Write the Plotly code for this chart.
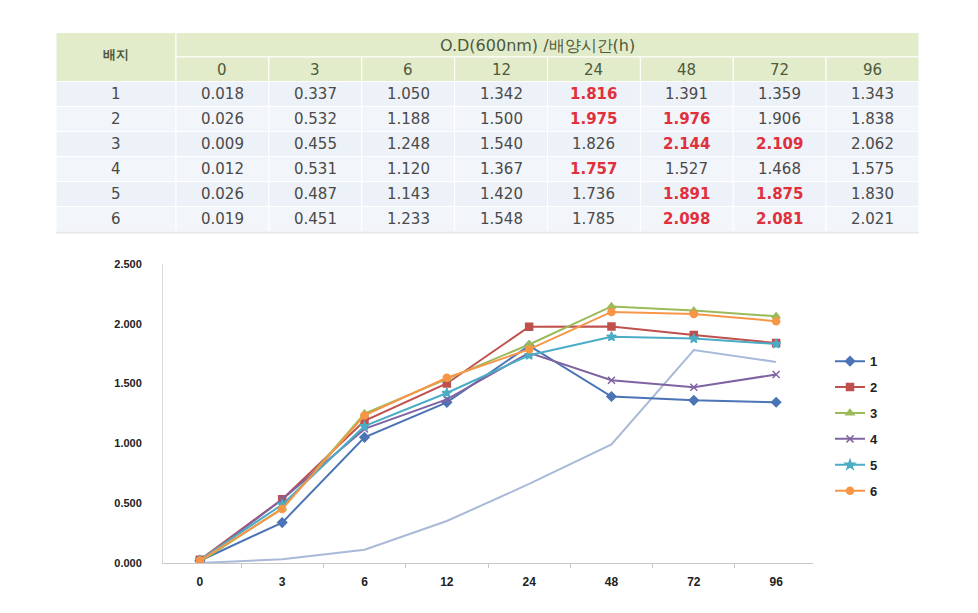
import plotly.graph_objects as go

W, H = 978, 613

times = ["0", "3", "6", "12", "24", "48", "72", "96"]
media = ["1", "2", "3", "4", "5", "6"]
od1 = [0.018, 0.337, 1.050, 1.342, 1.816, 1.391, 1.359, 1.343]
od2 = [0.026, 0.532, 1.188, 1.500, 1.975, 1.976, 1.906, 1.838]
od3 = [0.009, 0.455, 1.248, 1.540, 1.826, 2.144, 2.109, 2.062]
od4 = [0.012, 0.531, 1.120, 1.367, 1.757, 1.527, 1.468, 1.575]
od5 = [0.026, 0.487, 1.143, 1.420, 1.736, 1.891, 1.875, 1.830]
od6 = [0.019, 0.451, 1.233, 1.548, 1.785, 2.098, 2.081, 2.021]
extra = [0.0, 0.03, 0.11, 0.35, 0.66, 0.99, 1.78, 1.68]  # unlabeled light line
highlight = {  # (row, col) cells shown in red bold
    (0, 4), (1, 4), (1, 5), (2, 5), (2, 6), (3, 4), (4, 5), (4, 6), (5, 5), (5, 6)
}
series = [od1, od2, od3, od4, od5, od6]
colors = ["#4a74b5", "#c0504d", "#9bbb59", "#8064a2", "#4bacc6", "#f79646"]
symbols = ["diamond", "square", "triangle-up", "x-thin-open", "star", "circle"]

fig = go.Figure()

fig.add_trace(go.Scatter(x=times, y=extra, mode="lines", showlegend=False,
                         line=dict(color="#a9b9d8", width=2), hoverinfo="skip"))
for name, vals, c, s in zip(media, series, colors, symbols):
    fig.add_trace(go.Scatter(
        x=times, y=vals, name=name, mode="lines+markers", legendgroup=name,
        line=dict(color=c, width=2),
        marker=dict(symbol=s, size=7, color=c, line=dict(color=c, width=1.5)),
    ))

def px(x):
    return x / W

def py(y):
    return 1 - y / H

shapes = []
annots = []
# table geometry (pixels)
tl, tr = 56, 919
c0w = 120
ncol = len(times)
cw = (tr - tl - c0w) / ncol
h1t, h1b = 27, 52
h2b = 77
tb = 230
rh = (tb - h2b) / len(media)
FAM = "DejaVu Sans, sans-serif"
txt_font = dict(family=FAM, size=15, color="#4a4a4a")
hdr_font = dict(family=FAM, size=15, color="#4d5a3c")

def rect(x0, y0, x1, y1, fill, line="white", lw=1):
    shapes.append(dict(type="rect", xref="paper", yref="paper",
                       x0=px(x0), x1=px(x1), y0=py(y1), y1=py(y0),
                       fillcolor=fill, line=dict(color=line, width=lw), layer="below"))

def text(x, y, s, font):
    annots.append(dict(xref="paper", yref="paper", x=px(x), y=py(y), text=s,
                       showarrow=False, font=font, xanchor="center", yanchor="middle"))

# header
rect(tl, h1t, tl + c0w, h2b, "#e3ecca")
text(tl + c0w / 2, (h1t + h2b) / 2 - 3, "<b>배지</b>", dict(family=FAM, size=13, color="#4d5a3c"))
rect(tl + c0w, h1t, tr, h1b, "#e3ecca")
text(537, (h1t + h1b) / 2 + 1, "O.D(600nm) /배양시간(h)", dict(family=FAM, size=16, color="#4d5a3c"))
for j, t in enumerate(times):
    x0 = tl + c0w + j * cw
    rect(x0, h1b, x0 + cw, h2b, "#e3ecca")
    text(x0 + cw / 2, (h1b + h2b) / 2 + 1, t, hdr_font)
# body
for i, m in enumerate(media):
    y0 = h2b + i * rh
    fill = "#edf1f8" if i % 2 == 0 else "#f2f5fa"
    rect(tl, y0, tl + c0w, y0 + rh, fill)
    text(tl + c0w / 2, y0 + rh / 2, m, txt_font)
    for j in range(ncol):
        x0 = tl + c0w + j * cw
        rect(x0, y0, x0 + cw, y0 + rh, fill)
        s = f"{series[i][j]:.3f}"
        if (i, j) in highlight:
            text(x0 + cw / 2, y0 + rh / 2, f"<b>{s}</b>",
                 dict(family=FAM, size=15, color="#e0303c"))
        else:
            text(x0 + cw / 2, y0 + rh / 2, s, txt_font)
# slight shadow under table
shapes.append(dict(type="line", xref="paper", yref="paper", x0=px(tl), x1=px(tr),
                   y0=py(tb + 1), y1=py(tb + 1), line=dict(color="#e8e8e8", width=2)))

fig.update_layout(
    width=W, height=H,
    margin=dict(l=0, r=0, t=0, b=0),
    paper_bgcolor="white", plot_bgcolor="white",
    shapes=shapes, annotations=annots,
    font=dict(family="Liberation Sans, Arial, sans-serif", color="#333333"),
    xaxis=dict(domain=[px(163), px(813)], type="category", showgrid=False,
               showline=True, linecolor="#c8c8c8", linewidth=1,
               ticks="outside", tickson="boundaries", ticklen=4, tickcolor="#c8c8c8",
               ticklabelstandoff=8,
               tickfont=dict(size=12, color="#222222", family="Liberation Sans, Arial, sans-serif", weight="bold"),
               fixedrange=True),
    yaxis=dict(domain=[py(568), py(263)], range=[0, 2.5], dtick=0.5, tickformat=".3f",
               showgrid=False, showline=True, linecolor="#d8d8d8", zeroline=False,
               ticks="", ticklen=0, ticklabelstandoff=18,
               tickfont=dict(size=11, color="#222222", family="Liberation Sans, Arial, sans-serif", weight="bold")),
    legend=dict(x=px(830), y=py(347), xanchor="left", yanchor="top",
                font=dict(size=13, color="#222222", family="Liberation Sans, Arial, sans-serif", weight="bold"),
                itemwidth=30, tracegroupgap=6, bgcolor="rgba(0,0,0,0)"),
    showlegend=True,
)

fig.write_html("out.html")
